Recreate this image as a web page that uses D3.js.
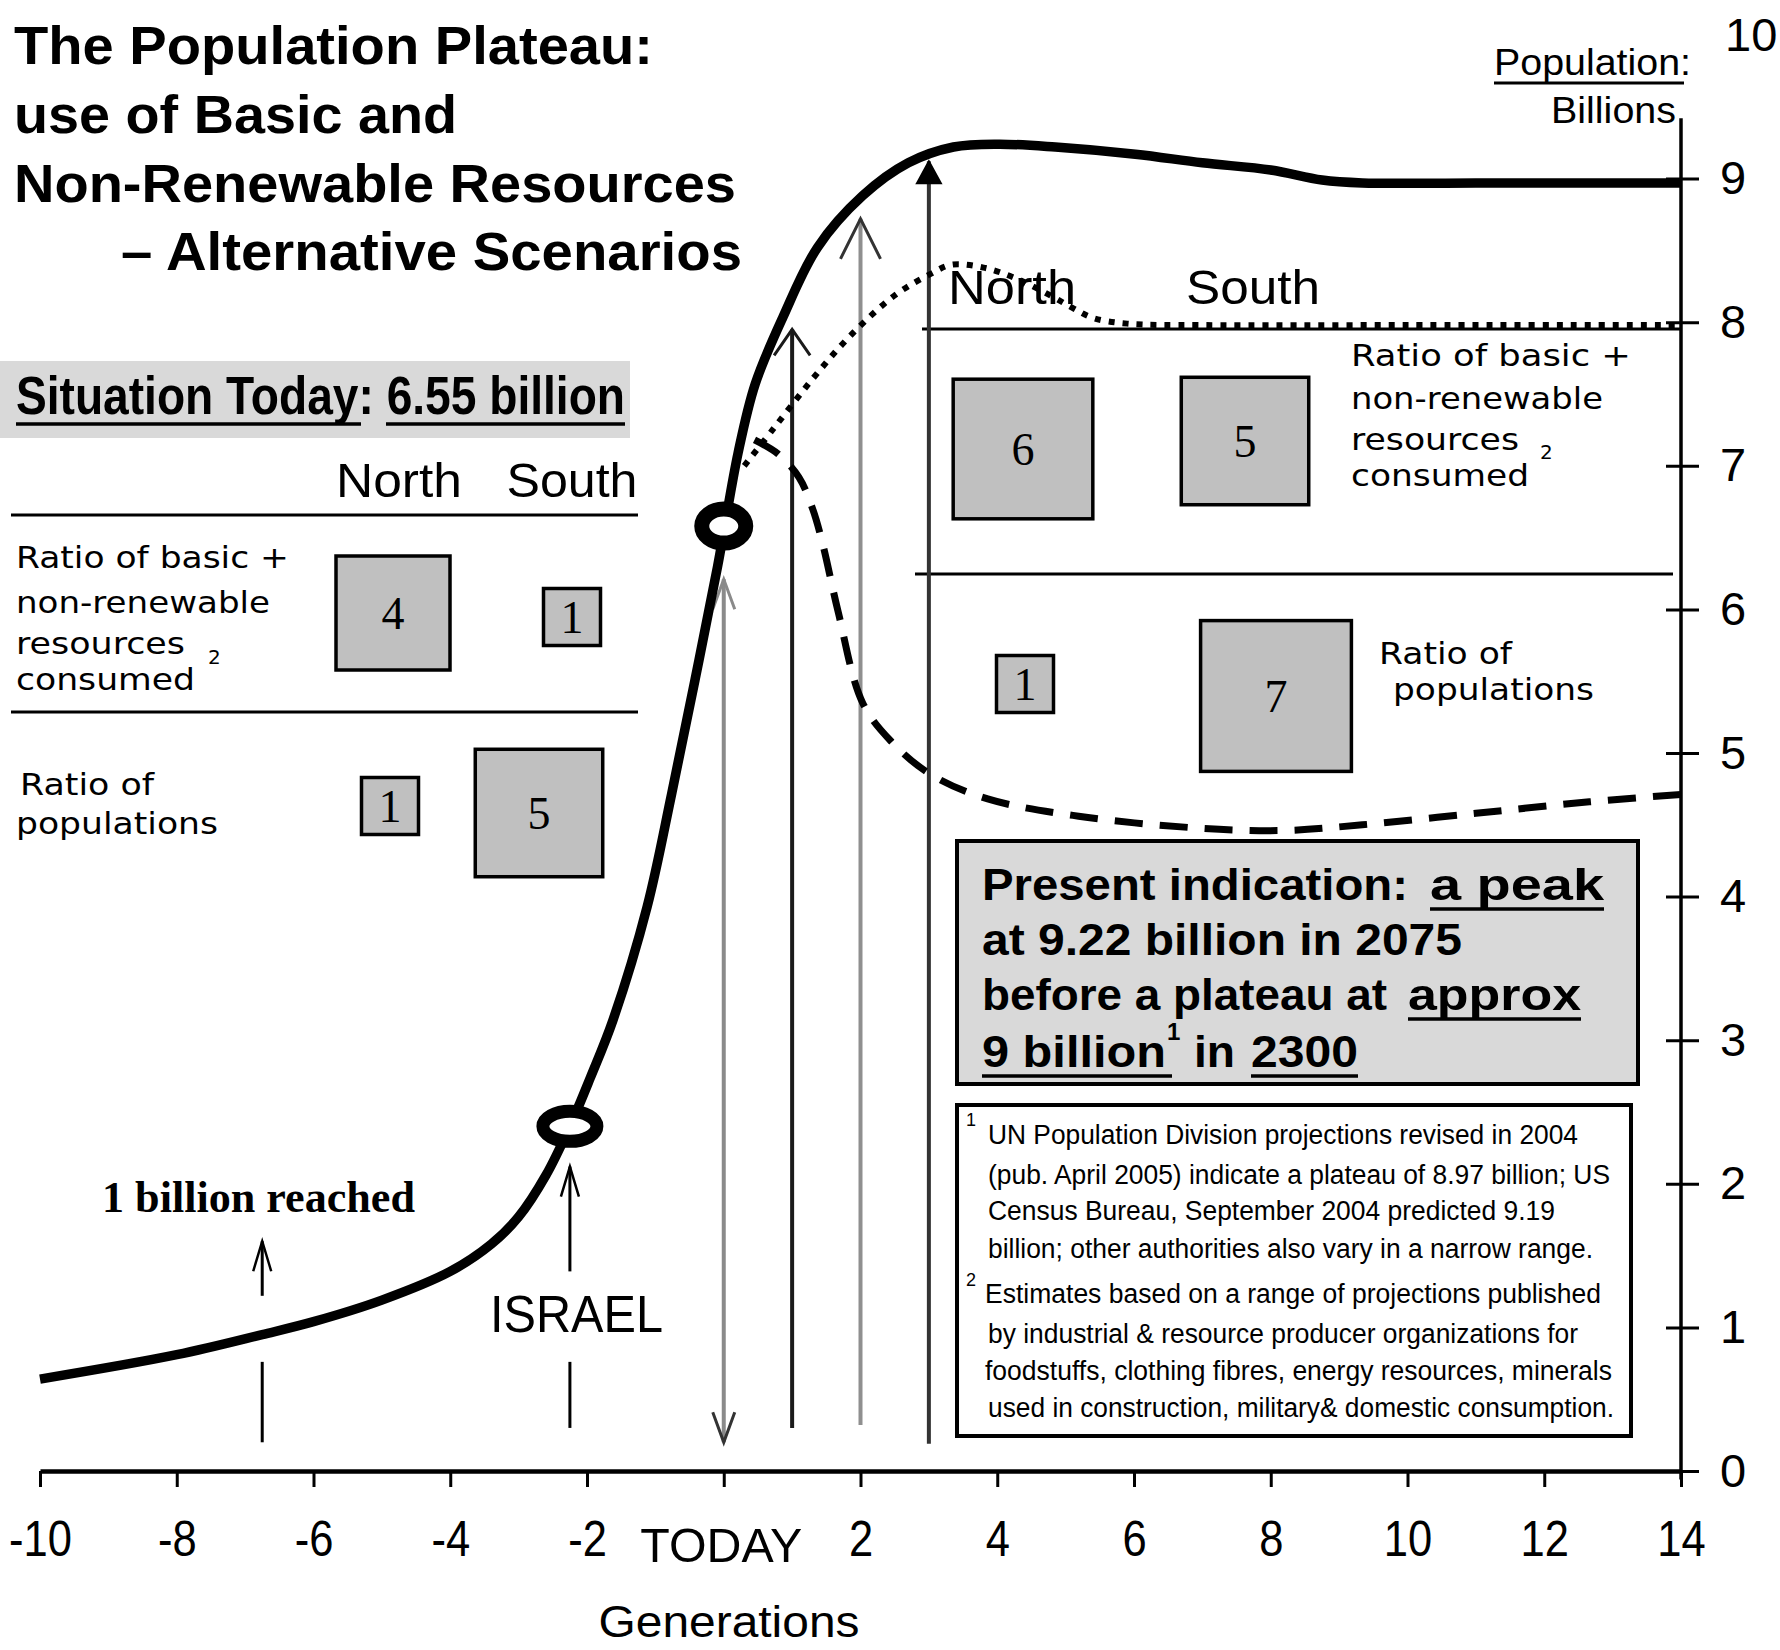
<!DOCTYPE html>
<html>
<head>
<meta charset="utf-8">
<script src="https://cdn.jsdelivr.net/npm/d3@7"></script>
<style>
body { margin: 0; background: #fff; }
text { font-family: "Liberation Sans", Arial, sans-serif; fill: #000; }
</style>
</head>
<body>
<svg id="chart"></svg>
<script>
// generations (x) and world population in billions (y)
var mainGen = [-10, -8, -6.75, -6, -5, -4, -3.4, -3, -2.6, -2.25, -1.95, -1.62, -1.12, -0.76, -0.42, -0.09, 0.21, 0.46, 0.87, 1.37, 2.03, 2.7, 3.36, 4.02, 4.85, 6.02, 7, 8, 8.75, 9.34, 11, 14];
var mainPop = [0.64, 0.81, 0.95, 1.04, 1.19, 1.39, 1.58, 1.77, 2.06, 2.40, 2.74, 3.14, 3.93, 4.72, 5.51, 6.30, 7.09, 7.57, 8.04, 8.52, 8.88, 9.11, 9.22, 9.24, 9.22, 9.17, 9.11, 9.06, 8.99, 8.97, 8.97, 8.97];

// dotted scenario
var dottedGen = [0.3, 0.73, 1.29, 1.86, 2.51, 3.04, 3.33, 3.8, 4.3, 4.8, 5.1, 5.4, 5.9, 7, 10, 14];
var dottedPop = [7.0, 7.26, 7.60, 7.91, 8.19, 8.34, 8.40, 8.38, 8.30, 8.18, 8.10, 8.03, 7.99, 7.98, 7.98, 7.98];

// dashed scenario
var dashedGen = [0.45, 0.8, 1.1, 1.3, 1.45, 1.67, 2.03, 2.45, 3.03, 3.86, 5.19, 6.85, 8.17, 9.34, 11, 12.66, 14.23];
var dashedPop = [7.18, 7.08, 6.92, 6.7, 6.45, 5.99, 5.35, 5.08, 4.85, 4.68, 4.56, 4.48, 4.46, 4.50, 4.58, 4.66, 4.72];

// ringed points on the curve (Israel, today)
var markGen = [-2.25, 0];
var markPop = [2.40, 6.58];

// vertical arrows after today
var arrowGen = [0, 1, 2, 3];
var arrowTop = [6.21, 7.95, 8.72, 9.12];
var arrowBottom = [0.2, 0.3, 0.32, 0.19];

// event arrows under the curve
var eventGen = [-6.75, -2.25];
var eventLabel = ["1 billion reached", "ISRAEL"];
var eventFrom = [1.22, 1.39];
var eventTo = [1.60, 2.12];
var eventStubTop = [0.76, 0.76];
var eventStubBottom = [0.2, 0.3];

var xTicks = [-10, -8, -6, -4, -2, 0, 2, 4, 6, 8, 10, 12, 14];
var yTicks = [0, 1, 2, 3, 4, 5, 6, 7, 8, 9, 10];

// North / South ratios
var regions = ["North", "South"];
var todayResources = [4, 1];
var todayPopulation = [1, 5];
var futureResources = [6, 5];
var futurePopulation = [1, 7];

var svg = d3.select("#chart").attr("width", 1780).attr("height", 1650);

var x = d3.scaleLinear().domain([-10, 14]).range([40, 1681]);
var y = d3.scaleLinear().domain([0, 10]).range([1471, 35]);
var boxSize = d3.scaleSqrt().domain([0, 1]).range([0, 57]);

// text helper, fits the string to a measured width
function txt(str, px, py, o) {
  o = o || {};
  var t = svg.append("text")
    .attr("x", px).attr("y", py)
    .style("font-size", (o.size || 30) + "px")
    .style("font-weight", o.bold ? "bold" : "normal")
    .attr("text-anchor", o.anchor || "start")
    .text(str);
  if (o.family) t.style("font-family", o.family);
  if (o.w) t.attr("textLength", o.w).attr("lengthAdjust", "spacingAndGlyphs");
  if (o.u) underline(o.anchor === "middle" ? px - o.w / 2 : px, o.uw || o.w, py + (o.uo || 8), o.ut);
  return t;
}
function underline(x0, w, yy, t) {
  svg.append("line")
    .attr("x1", x0).attr("x2", x0 + w).attr("y1", yy).attr("y2", yy)
    .attr("stroke", "#000").attr("stroke-width", t || 3);
}

var NARROW = '"Liberation Sans Narrow", "Liberation Sans", Arial, sans-serif';
var SERIF = '"Liberation Serif", "Times New Roman", serif';
var WIDE = '"DejaVu Sans", Verdana, sans-serif';

// ---- background boxes
svg.append("rect").attr("x", 0).attr("y", 361).attr("width", 630).attr("height", 77).attr("fill", "#d9d9d9");
svg.append("rect").attr("x", 957).attr("y", 841).attr("width", 681).attr("height", 243)
  .attr("fill", "#d9d9d9").attr("stroke", "#000").attr("stroke-width", 4);
svg.append("rect").attr("x", 957).attr("y", 1105).attr("width", 674).attr("height", 331)
  .attr("fill", "#fff").attr("stroke", "#000").attr("stroke-width", 4);

// ---- table rules
[[11, 638, 515], [11, 638, 712], [922, 1681, 329], [915, 1673, 574]].forEach(function (r) {
  svg.append("line").attr("x1", r[0]).attr("x2", r[1]).attr("y1", r[2]).attr("y2", r[2])
    .attr("stroke", "#000").attr("stroke-width", 3);
});

// ---- ratio boxes
function drawBoxes(values, centers) {
  values.forEach(function (v, i) {
    var s = boxSize(v);
    svg.append("rect")
      .attr("x", centers[i][0] - s / 2).attr("y", centers[i][1] - s / 2)
      .attr("width", s).attr("height", s)
      .attr("fill", "#c0c0c0").attr("stroke", "#000").attr("stroke-width", 3.5);
    svg.append("text")
      .attr("x", centers[i][0]).attr("y", centers[i][1] + 16)
      .attr("text-anchor", "middle")
      .style("font-family", SERIF).style("font-size", "46px")
      .text(v);
  });
}
drawBoxes(todayResources, [[393, 613], [572, 617]]);
drawBoxes(todayPopulation, [[390, 806], [539, 813]]);
drawBoxes(futureResources, [[1023, 449], [1245, 441]]);
drawBoxes(futurePopulation, [[1025, 684], [1276, 696]]);

// ---- axes
var xAxis = svg.append("g")
  .attr("transform", "translate(0," + y(0) + ")")
  .call(d3.axisBottom(x).tickValues(xTicks).tickSize(16).tickSizeOuter(0).tickPadding(34)
    .tickFormat(function (d) { return d === 0 ? "TODAY" : String(d); }));
xAxis.select(".domain").attr("stroke-width", 4.5);
xAxis.selectAll(".tick line").attr("stroke-width", 3);
xAxis.selectAll(".tick text")
  .style("font-family", NARROW).style("font-size", "50px").attr("fill", "#000")
  .attr("transform", "scale(0.87,1)");
xAxis.selectAll(".tick text").filter(function (d) { return d === 0; })
  .attr("transform", null)
  .attr("dy", "0.85em").attr("dx", -3).style("font-size", "48px")
  .attr("textLength", 162).attr("lengthAdjust", "spacingAndGlyphs");

var yAxis = svg.append("g")
  .attr("transform", "translate(" + x(14) + ",0)")
  .call(d3.axisRight(y).tickValues(yTicks).tickSize(18).tickPadding(21));
yAxis.select(".domain").remove();
yAxis.selectAll(".tick line").attr("x1", -15).attr("stroke-width", 3)
  .filter(function (d) { return d === 10; }).remove();
yAxis.selectAll(".tick text")
  .style("font-family", NARROW).style("font-size", "47px").attr("fill", "#000");
yAxis.selectAll(".tick text").filter(function (d) { return d === 10; }).attr("x", 44);
svg.append("line").attr("x1", x(14)).attr("x2", x(14)).attr("y1", y(9.42)).attr("y2", y(-0.06))
  .attr("stroke", "#000").attr("stroke-width", 3.5);

// ---- arrow helper
function head(px, py, dir, filled, color, w, h, sw) {
  var p = "M" + (px - w) + "," + (py - dir * h) + "L" + px + "," + py + "L" + (px + w) + "," + (py - dir * h);
  svg.append("path").attr("d", filled ? p + "Z" : p)
    .attr("fill", filled ? color : "none").attr("stroke", color).attr("stroke-width", sw || 3);
}

// vertical arrows from today onward
var arrowColor = ["#8a8a8a", "#1a1a1a", "#8f8f8f", "#333"];
arrowGen.forEach(function (g, i) {
  svg.append("line")
    .attr("x1", x(g)).attr("x2", x(g)).attr("y1", y(arrowTop[i])).attr("y2", y(arrowBottom[i]))
    .attr("stroke", arrowColor[i]).attr("stroke-width", 4);
});
head(x(0), y(arrowTop[0]), -1, false, arrowColor[0], 11, 30, 3);
head(x(0), y(arrowBottom[0]), 1, false, "#333", 11, 30, 3);
head(x(1), y(arrowTop[1]), -1, false, arrowColor[1], 18, 26, 3);
head(x(2), y(arrowTop[2]), -1, false, "#333", 20, 40, 3);
head(x(3), y(arrowTop[3]), -1, true, "#000", 12, 22, 2);

// event arrows
eventGen.forEach(function (g, i) {
  svg.append("line").attr("x1", x(g)).attr("x2", x(g)).attr("y1", y(eventFrom[i])).attr("y2", y(eventTo[i]))
    .attr("stroke", "#000").attr("stroke-width", 3);
  head(x(g), y(eventTo[i]), -1, false, "#000", 9, 30, 2.5);
  svg.append("line").attr("x1", x(g)).attr("x2", x(g))
    .attr("y1", y(eventStubTop[i])).attr("y2", y(eventStubBottom[i]))
    .attr("stroke", "#000").attr("stroke-width", 3);
});

// ---- scenario lines
function lineOf(gens) {
  return d3.line().curve(d3.curveCatmullRom.alpha(0.5))
    .x(function (d, i) { return x(gens[i]); })
    .y(function (d) { return y(d); });
}
svg.append("path").datum(dashedPop).attr("d", lineOf(dashedGen))
  .attr("fill", "none").attr("stroke", "#000").attr("stroke-width", 7)
  .attr("stroke-dasharray", "28 17");
svg.append("path").datum(dottedPop).attr("d", lineOf(dottedGen))
  .attr("fill", "none").attr("stroke", "#000").attr("stroke-width", 6)
  .attr("stroke-dasharray", "6 8");
svg.append("path").datum(mainPop).attr("d", lineOf(mainGen))
  .attr("fill", "none").attr("stroke", "#000").attr("stroke-width", 9.5)
  .attr("stroke-linejoin", "round");

// ringed points
var ringR = [[27, 15, 13], [22, 17, 15]];
markGen.forEach(function (g, i) {
  svg.append("ellipse").attr("cx", x(g)).attr("cy", y(markPop[i]))
    .attr("rx", ringR[i][0]).attr("ry", ringR[i][1])
    .attr("fill", "#fff").attr("stroke", "#000").attr("stroke-width", ringR[i][2]);
});

// ---- titles and labels
txt("The Population Plateau:", 14, 64, { size: 54, bold: true, w: 639 });
txt("use of Basic and", 14, 133, { size: 54, bold: true, w: 443 });
txt("Non-Renewable Resources", 14, 202, { size: 54, bold: true, w: 722 });
txt("\u2013 Alternative Scenarios", 121, 270, { size: 54, bold: true, w: 621 });

txt("Population:", 1494, 75, { size: 36, w: 197, u: true, uo: 8, ut: 3, uw: 190 });
txt("Billions", 1551, 123, { size: 36, w: 125 });

// one text, two underlined parts
txt("Situation Today: 6.55 billion", 16, 414, { size: 54, bold: true, family: NARROW, w: 609 });
underline(16, 345, 424, 3.5);
underline(386, 239, 424, 3.5);

txt(regions[0], 399, 497, { size: 48, family: NARROW, anchor: "middle", w: 126 });
txt(regions[1], 572, 497, { size: 48, family: NARROW, anchor: "middle", w: 131 });
txt(regions[0], 1012, 304, { size: 48, family: NARROW, anchor: "middle", w: 128 });
txt(regions[1], 1253, 304, { size: 48, family: NARROW, anchor: "middle", w: 134 });

var resLines = ["Ratio of basic +", "non-renewable", "resources", "consumed"];
[[16, 568, 273], [16, 613, 254], [16, 654, 169], [16, 690, 179]].forEach(function (p, i) {
  txt(resLines[i], p[0], p[1], { size: 30, family: WIDE, w: p[2] });
});
txt("2", 208, 664, { size: 20, family: WIDE });
txt("Ratio of", 20, 795, { size: 30, family: WIDE, w: 134 });
txt("populations", 16, 834, { size: 30, family: WIDE, w: 202 });

var resLines2 = ["Ratio of  basic +", "non-renewable", "resources", "consumed"];
[[1351, 366, 280], [1351, 409, 252], [1351, 450, 168], [1351, 486, 178]].forEach(function (p, i) {
  txt(resLines2[i], p[0], p[1], { size: 30, family: WIDE, w: p[2] });
});
txt("2", 1540, 459, { size: 20, family: WIDE });
txt("Ratio of", 1379, 664, { size: 30, family: WIDE, w: 133 });
txt("populations", 1393, 700, { size: 30, family: WIDE, w: 201 });

// event labels
txt(eventLabel[0], 102, 1212, { size: 44, bold: true, family: SERIF, w: 313 });
txt(eventLabel[1], 490, 1332, { size: 52, family: NARROW, w: 173 });

txt("Generations", 729, 1637, { size: 44, family: NARROW, anchor: "middle", w: 261 });

// present indication box
txt("Present indication:", 982, 900, { size: 45, bold: true, w: 426 });
txt("a peak", 1430, 900, { size: 45, bold: true, w: 174, u: true, uo: 9, ut: 3.5 });
txt("at 9.22 billion in 2075", 982, 955, { size: 45, bold: true, w: 480 });
txt("before a plateau at", 982, 1010, { size: 45, bold: true, w: 405 });
txt("approx", 1408, 1010, { size: 45, bold: true, w: 173, u: true, uo: 9, ut: 3.5 });
txt("9 billion", 982, 1067, { size: 45, bold: true, w: 184, u: true, uo: 9, ut: 3.5, uw: 190 });
txt("1", 1167, 1040, { size: 24, bold: true });
txt("in", 1194, 1067, { size: 45, bold: true, w: 41 });
txt("2300", 1251, 1067, { size: 45, bold: true, w: 107, u: true, uo: 9, ut: 3.5 });

// footnotes
var notes = [
  "UN Population Division projections revised in 2004",
  "(pub. April 2005) indicate a plateau of 8.97 billion; US",
  "Census Bureau, September 2004 predicted 9.19",
  "billion; other authorities also vary in a narrow range.",
  "Estimates based on a range of projections published",
  "by industrial & resource producer organizations for",
  "foodstuffs, clothing fibres, energy resources, minerals",
  "used in construction, military& domestic consumption."
];
var noteY = [1144, 1184, 1220, 1258, 1303, 1343, 1380, 1417];
var noteW = [590, 622, 567, 605, 616, 590, 627, 626];
notes.forEach(function (n, i) {
  txt(n, i === 4 || i === 6 ? 985 : 988, noteY[i], { size: 27, family: NARROW, w: noteW[i] });
});
txt("1", 966, 1126, { size: 18, family: NARROW });
txt("2", 966, 1286, { size: 18, family: NARROW });
</script>
</body>
</html>
